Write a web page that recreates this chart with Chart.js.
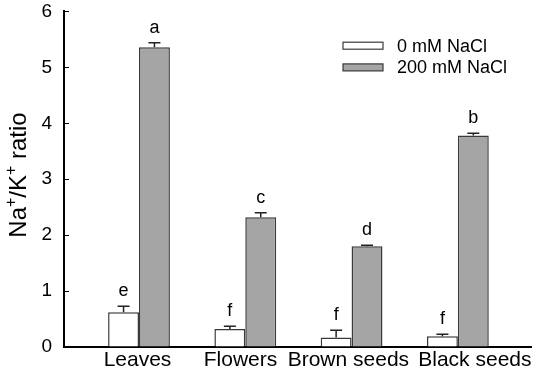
<!DOCTYPE html>
<html><head><meta charset="utf-8">
<script src="https://cdn.jsdelivr.net/npm/chart.js@4.4.1/dist/chart.umd.min.js"></script>
<style>html,body{margin:0;padding:0;background:#fff;}</style>
</head><body>
<canvas id="c" width="536" height="373" style="width:536px;height:373px;display:block"></canvas>
<script>
const categories = ['Leaves', 'Flowers', 'Brown seeds', 'Black seeds'];
const labelPositions = [-0.014, 0.955, 1.97, 3.16];
const seriesNames = ['0 mM NaCl', '200 mM NaCl'];
const control = [0.62, 0.32, 0.17, 0.19];
const controlErr = [0.11, 0.05, 0.13, 0.04];
const salt = [5.36, 2.32, 1.80, 3.78];
const saltErr = [0.08, 0.08, 0.02, 0.04];
const controlLetters = ['e', 'f', 'f', 'f'];
const saltLetters = ['a', 'c', 'd', 'b'];
const yTicks = [0, 1, 2, 3, 4, 5, 6];

const FONT = 'Liberation Sans, Arial, sans-serif';

const extras = {
  id: 'extras',
  afterDatasetsDraw(chart) {
    const ctx = chart.ctx;
    const ys = chart.scales.y;
    ctx.save();
    // inward y ticks
    ctx.strokeStyle = '#000';
    ctx.lineWidth = 1;
    yTicks.forEach(v => {
      const y = Math.round(ys.getPixelForValue(v)) + 0.5;
      ctx.beginPath(); ctx.moveTo(ys.right, y); ctx.lineTo(ys.right + 5, y); ctx.stroke();
    });
    // error bars + letters
    chart.data.datasets.forEach((ds, di) => {
      const meta = chart.getDatasetMeta(di);
      meta.data.forEach((bar, i) => {
        const top = ys.getPixelForValue(ds.data[i].y + ds.err[i]);
        const x = bar.x;
        ctx.strokeStyle = '#222';
        ctx.lineWidth = 1.5;
        ctx.beginPath();
        ctx.moveTo(x, bar.y); ctx.lineTo(x, top);
        ctx.moveTo(x - 6, top); ctx.lineTo(x + 6, top);
        ctx.stroke();
        ctx.fillStyle = '#000';
        ctx.font = '18px ' + FONT;
        ctx.textAlign = 'center';
        ctx.textBaseline = 'middle';
        ctx.fillText(ds.letters[i], x, top - 15);
      });
    });
    // legend
    const lx = 343, lw = 40, lh = 7;
    const rows = [45.7, 67.4];
    chart.data.datasets.forEach((ds, di) => {
      const cy = rows[di];
      ctx.fillStyle = ds.backgroundColor;
      ctx.fillRect(lx, cy - lh / 2, lw, lh);
      ctx.strokeStyle = ds.borderColor;
      ctx.lineWidth = 1.2;
      ctx.strokeRect(lx, cy - lh / 2, lw, lh);
      ctx.fillStyle = '#000';
      ctx.font = '18px ' + FONT;
      ctx.textAlign = 'left';
      ctx.textBaseline = 'middle';
      ctx.fillText(ds.label, 397, cy + 1);
    });
    // y title with superscripts
    const parts = [['Na', false], ['+', true], ['/K', false], ['+', true], [' ratio', false]];
    const big = '24px ' + FONT, small = '16px ' + FONT;
    let total = 0;
    parts.forEach(p => { ctx.font = p[1] ? small : big; total += ctx.measureText(p[0]).width; });
    ctx.translate(26, 175);
    ctx.rotate(-Math.PI / 2);
    ctx.textAlign = 'left';
    ctx.textBaseline = 'alphabetic';
    ctx.fillStyle = '#000';
    let px = -total / 2;
    parts.forEach(p => {
      ctx.font = p[1] ? small : big;
      ctx.fillText(p[0], px, p[1] ? -10 : 0);
      px += ctx.measureText(p[0]).width;
    });
    ctx.restore();
  }
};

const ctx = document.getElementById('c').getContext('2d');
new Chart(ctx, {
  type: 'bar',
  data: {
    datasets: [
      { label: seriesNames[0], data: control.map((v, i) => ({ x: i, y: v })), backgroundColor: '#ffffff', borderColor: '#3a3a3a', borderWidth: 1.5, err: controlErr, letters: controlLetters },
      { label: seriesNames[1], data: salt.map((v, i) => ({ x: i, y: v })), backgroundColor: '#a5a5a5', borderColor: '#3a3a3a', borderWidth: 1.5, err: saltErr, letters: saltLetters }
    ]
  },
  options: {
    responsive: false,
    animation: false,
    devicePixelRatio: 1,
    categoryPercentage: 0.6,
    barPercentage: 1.0,
    layout: { padding: { top: 0, right: 5, left: 0, bottom: 0 } },
    plugins: { legend: { display: false }, tooltip: { enabled: false } },
    scales: {
      x: {
        type: 'linear', min: -0.7056, max: 3.688, offset: false,
        afterBuildTicks: s => { s.ticks = labelPositions.map(v => ({ value: v })); },
        ticks: { callback: v => categories[Math.round(v)], font: { family: FONT, size: 21 }, color: '#000', padding: 1, maxRotation: 0, autoSkip: false },
        grid: { display: false, drawTicks: false, offset: false },
        border: { display: true, color: '#000', width: 2 },
        afterFit: s => { s.height = 26; }
      },
      y: {
        min: 0, max: 6,
        afterBuildTicks: s => { s.ticks = yTicks.map(v => ({ value: v })); },
        ticks: { font: { family: FONT, size: 19 }, color: '#000', padding: 0 },
        grid: { display: true, drawOnChartArea: false, drawTicks: true, tickLength: 12, tickColor: 'rgba(0,0,0,0)' },
        border: { display: true, color: '#000', width: 2 },
        afterFit: s => { s.width = 64; }
      }
    }
  },
  plugins: [extras]
});
</script>
</body></html>
